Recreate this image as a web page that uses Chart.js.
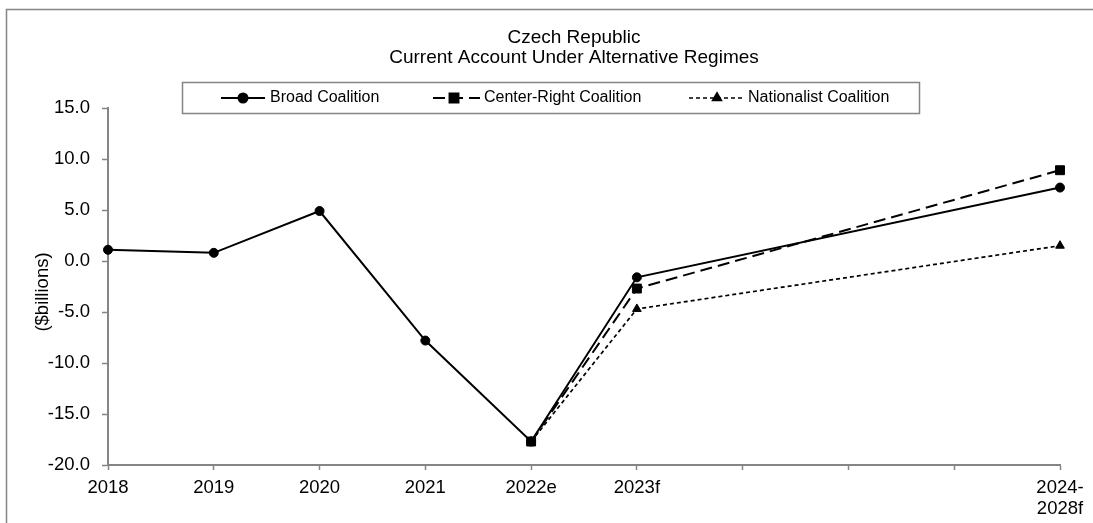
<!DOCTYPE html>
<html>
<head>
<meta charset="utf-8">
<title>Czech Republic – Current Account Under Alternative Regimes</title>
<script src="https://cdn.jsdelivr.net/npm/chart.js@4/dist/chart.umd.min.js"></script>
<style>
  html, body { margin: 0; padding: 0; background: #ffffff; }
  canvas { display: block; }
</style>
</head>
<body>
<canvas id="chart" width="1093" height="523"></canvas>
<script>
// Period labels (three unlabeled spacer slots before the 2024-2028 average)
const categories = ['2018', '2019', '2020', '2021', '2022e', '2023f', '', '', '', ['2024-', '2028f']];

// Current account balance, $ billions
const broadCoalition       = [1.1, 0.8, 4.9, -7.8, -17.7, -1.6, null, null, null, 7.2];
const centerRightCoalition = [null, null, null, null, -17.7, -2.7, null, null, null, 8.9];
const nationalistCoalition = [null, null, null, null, -17.7, -4.7, null, null, null, 1.5];

const yTicks = [15, 10, 5, 0, -5, -10, -15, -20];

const titleLines = ['Czech Republic', 'Current Account Under Alternative Regimes'];
const yAxisTitle = '($billions)';

const FONT = '"Liberation Sans", Arial, sans-serif';
const AXIS_GREY = '#858585';

// Frame, two-line title and boxed legend drawn around the plot
const decorations = {
  id: 'decorations',
  beforeDraw(chart) {
    const ctx = chart.ctx;
    ctx.save();
    ctx.fillStyle = '#ffffff';
    ctx.fillRect(0, 0, chart.width, chart.height);
    ctx.strokeStyle = AXIS_GREY;
    ctx.lineWidth = 1.5;
    ctx.strokeRect(6.5, 9.5, chart.width + 20, chart.height + 20);
    ctx.restore();
  },
  afterDraw(chart) {
    const ctx = chart.ctx;
    ctx.save();
    // title
    ctx.fillStyle = '#000000';
    ctx.font = '19px ' + FONT;
    ctx.textAlign = 'center';
    ctx.textBaseline = 'middle';
    ctx.fillText(titleLines[0], 574, 38);
    ctx.fillText(titleLines[1], 574, 58);

    // y-axis title
    ctx.save();
    ctx.translate(43, 292);
    ctx.rotate(-Math.PI / 2);
    ctx.font = '18.5px ' + FONT;
    ctx.fillText(yAxisTitle, 0, 0);
    ctx.restore();

    // legend box
    ctx.strokeStyle = AXIS_GREY;
    ctx.lineWidth = 1.5;
    ctx.strokeRect(182.5, 82.5, 737, 31);
    const rowY = 98;
    const items = [
      { ds: 0, x0: 221, x1: 265, mx: 243, tx: 270 },
      { ds: 1, x0: 433, x1: 480, mx: 454, tx: 484 },
      { ds: 2, x0: 689, x1: 745, mx: 717, tx: 748 }
    ];
    items.forEach(it => {
      const ds = chart.data.datasets[it.ds];
      ctx.save();
      ctx.strokeStyle = ds.borderColor;
      ctx.lineWidth = ds.borderWidth;
      ctx.setLineDash(ds.borderDash || []);
      ctx.beginPath();
      ctx.moveTo(it.x0, rowY);
      ctx.lineTo(it.x1, rowY);
      ctx.stroke();
      ctx.setLineDash([]);
      Chart.helpers.drawPoint(ctx, {
        pointStyle: ds.pointStyle,
        radius: ds.pointRadius,
        borderWidth: 1,
        rotation: 0
      }, it.mx, rowY);
      ctx.fillStyle = ds.pointBackgroundColor;
      ctx.fill();
      ctx.restore();
      ctx.fillStyle = '#000000';
      ctx.font = '16px ' + FONT;
      ctx.textAlign = 'left';
      ctx.textBaseline = 'middle';
      ctx.fillText(ds.label, it.tx, rowY);
    });
    ctx.restore();
  }
};

function series(label, data, dash, style, radius, width) {
  return {
    label: label,
    data: data,
    borderColor: '#000000',
    backgroundColor: '#000000',
    pointBackgroundColor: '#000000',
    pointBorderColor: '#000000',
    borderWidth: width,
    borderDash: dash,
    pointStyle: style,
    pointRadius: radius,
    pointHoverRadius: radius,
    pointBorderWidth: 1,
    spanGaps: true,
    tension: 0,
    fill: false
  };
}

new Chart(document.getElementById('chart'), {
  type: 'line',
  data: {
    labels: categories,
    datasets: [
      series('Broad Coalition', broadCoalition, [], 'circle', 4.5, 2),
      series('Center-Right Coalition', centerRightCoalition, [12, 6], 'rect', 6.3, 2),
      series('Nationalist Coalition', nationalistCoalition, [4, 3], 'triangle', 5, 1.7)
    ]
  },
  options: {
    responsive: false,
    animation: false,
    events: [],
    layout: { padding: { top: 108, right: 33, bottom: 0, left: 28 } },
    plugins: {
      legend: { display: false },
      title: { display: false },
      tooltip: { enabled: false }
    },
    scales: {
      x: {
        type: 'category',
        offset: false,
        afterFit(scale) { scale.height = 58; },
        grid: {
          drawOnChartArea: false,
          drawTicks: true,
          tickLength: 5,
          tickColor: AXIS_GREY,
          tickWidth: 1.5
        },
        border: { display: true, color: AXIS_GREY, width: 2 },
        ticks: {
          autoSkip: false,
          maxRotation: 0,
          minRotation: 0,
          padding: 8,
          color: '#000000',
          font: { family: FONT, size: 18.5, lineHeight: 1.1 }
        }
      },
      y: {
        min: -20,
        max: 15,
        afterFit(scale) { scale.width = 80; },
        afterBuildTicks(scale) { scale.ticks = yTicks.map(v => ({ value: v })); },
        grid: {
          drawOnChartArea: false,
          drawTicks: true,
          tickLength: 6,
          tickColor: AXIS_GREY,
          tickWidth: 1.5
        },
        border: { display: true, color: AXIS_GREY, width: 2 },
        ticks: {
          padding: 12,
          color: '#000000',
          font: { family: FONT, size: 18.5 },
          callback: v => Number(v).toFixed(1)
        }
      }
    }
  },
  plugins: [decorations]
});
</script>
</body>
</html>
